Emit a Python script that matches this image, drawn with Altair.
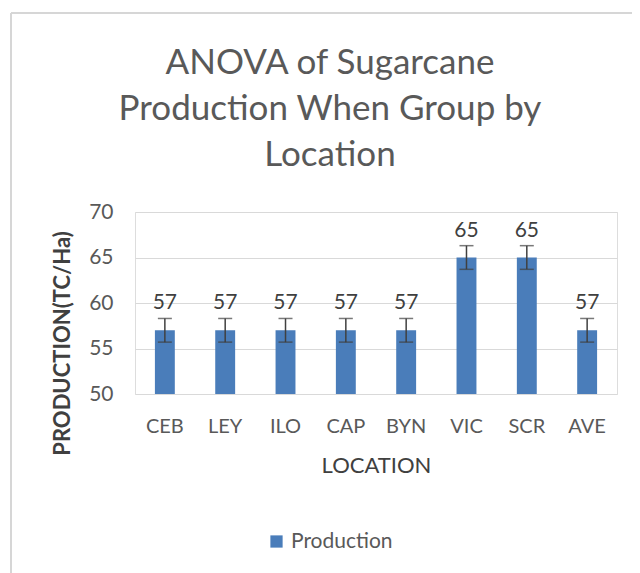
import altair as alt
import pandas as pd

locations = ["CEB", "LEY", "ILO", "CAP", "BYN", "VIC", "SCR", "AVE"]
production = [57, 57, 57, 57, 57, 65, 65, 57]
errors = [1.3, 1.3, 1.3, 1.3, 1.3, 1.3, 1.3, 1.3]
y_ticks = [50, 55, 60, 65, 70]
title_lines = ["ANOVA of Sugarcane", "Production When Group by", "Location"]

df = pd.DataFrame({"Location": locations, "Production": production, "Err": errors})
df["lo"] = df["Production"] - df["Err"]
df["hi"] = df["Production"] + df["Err"]
df["series"] = "Production"

FONT = "Lato"
BLUE = "#4a7dba"
GREY = "#595959"

x = alt.X(
    "Location:N",
    sort=locations,
    title="LOCATION",
    scale=alt.Scale(paddingInner=0.67, paddingOuter=0.33),
    axis=alt.Axis(
        labelAngle=0, ticks=False, domain=False, grid=False,
        labelFont=FONT, labelFontSize=20, labelColor=GREY, labelPadding=22,
        titleFont=FONT, titleFontSize=22, titleColor="#404040", titleFontWeight="normal",
        titlePadding=19,
    ),
)
yscale = alt.Scale(domain=[50, 70], zero=False, nice=False)
y_axis = alt.Axis(
    values=y_ticks, ticks=False, domain=False, grid=True, gridColor="#d9d9d9", gridWidth=1,
    labelFont=FONT, labelFontSize=21, labelColor=GREY, labelPadding=22,
    titleFont=FONT, titleFontSize=22, titleColor="#404040", titleFontWeight="bold",
    titleX=-73, titleY=131, titleAngle=-90, titleAlign="center", titleBaseline="middle",
)

base = alt.Chart(df)

bars = base.mark_bar().encode(
    x=x,
    y=alt.Y("Production:Q", scale=yscale, axis=y_axis, title="PRODUCTION(TC/Ha)"),
    y2=alt.datum(50),
    color=alt.Color(
        "series:N",
        scale=alt.Scale(range=[BLUE]),
        legend=alt.Legend(
            title=None, orient="none", legendX=131, legendY=319,
            symbolType="square", symbolSize=150, symbolStrokeWidth=0,
            labelFont=FONT, labelFontSize=21, labelColor=GREY,
        ),
    ),
)

err_rule = base.mark_rule(color="#404040", strokeWidth=1.5).encode(
    x=alt.X("Location:N", sort=locations),
    y=alt.Y("lo:Q", scale=yscale),
    y2="hi:Q",
)
err_cap_hi = base.mark_tick(color="#404040", thickness=1.5, size=14).encode(
    x=alt.X("Location:N", sort=locations),
    y=alt.Y("hi:Q", scale=yscale),
)
err_cap_lo = base.mark_tick(color="#404040", thickness=1.5, size=14).encode(
    x=alt.X("Location:N", sort=locations),
    y=alt.Y("lo:Q", scale=yscale),
)
labels = base.mark_text(dy=-15, font=FONT, fontSize=21, color="#404040").encode(
    x=alt.X("Location:N", sort=locations),
    y=alt.Y("hi:Q", scale=yscale),
    text="Production:Q",
)

frame_left = alt.Chart(pd.DataFrame({"a": [0]})).mark_rule(color="#d6d6d6", strokeWidth=2).encode(
    x=alt.value(-124), y=alt.value(-199), y2=alt.value(400)
)
frame_top = alt.Chart(pd.DataFrame({"a": [0]})).mark_rule(color="#d6d6d6", strokeWidth=2).encode(
    x=alt.value(-124), x2=alt.value(600), y=alt.value(-199)
)

chart = alt.layer(frame_left, frame_top, bars, err_rule, err_cap_hi, err_cap_lo, labels).properties(
    width=482,
    height=182,
    title=alt.Title(
        title_lines, font=FONT, fontSize=35, fontWeight="normal", color=GREY,
        lineHeight=46, anchor="middle", dx=-46, offset=34, dy=195,
    ),
    autosize=alt.AutoSizeParams(type="none"),
    padding={"left": 127, "top": 204, "right": 15, "bottom": 179},
).configure_view(stroke=None).configure(background="white")

chart.save("out.html", embed_options={"renderer": "svg", "actions": False})
